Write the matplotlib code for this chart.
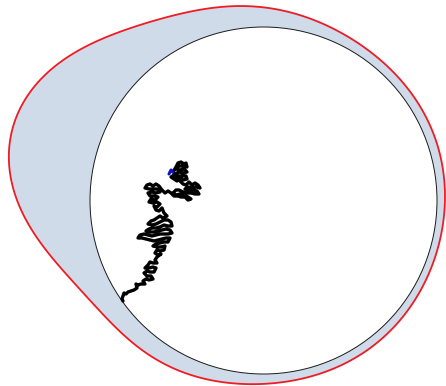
import numpy as np
import matplotlib
matplotlib.use("Agg")
import matplotlib.pyplot as plt
from matplotlib.patches import Polygon, Circle

# Outer boundary of the domain (screen-style coordinates, y grows downward)
outer_x = [8.3, 13.3, 26.7, 40, 66.7, 100, 140, 186.7, 233, 250, 300, 350, 383.3,
           410, 426.7, 440, 445, 441.7, 430, 413.3, 386.7, 360, 330, 286.7, 260,
           233, 200, 166.7, 133, 100, 66.7, 30, 18.3, 10]
outer_y = [150, 120, 100, 80, 60, 40, 23, 11.7, 7.3, 7, 15, 36.7, 63.3,
           90, 120, 160, 200, 240, 270, 303.3, 333.3, 353.3, 370, 383.3, 385,
           383, 376.7, 363, 343, 318, 267, 230, 203, 176.7]

# Inner disk
disk_center = (263.5, 200.5)
disk_radius = 173.5

# Brownian path: start segment (blue) and the rest up to the exit point
start_x = [169, 171, 173]
start_y = [174, 170, 172]

walk_x = [
    # top cluster
    173, 176, 178, 181, 184, 186, 187, 183, 179, 176, 180, 184, 187, 183, 179, 175,
    178, 182, 186, 187, 183, 180, 177, 174, 171, 174, 180, 183,
    # right cluster
    186, 189, 192, 195, 198, 200, 196, 192, 188, 185, 189, 193, 197, 199, 195, 191,
    187, 183, 179, 176, 173, 176, 180, 184, 188, 191, 188, 185, 181, 178, 174, 171,
    168, 165,
    # upper-left cluster
    162, 159, 156, 153, 150, 147, 145, 149, 153, 157, 160, 156, 152, 148, 150, 154,
    158, 155, 151, 149, 153, 157, 160, 157, 154, 156, 159, 162, 164,
    # middle cluster
    167, 163, 160, 157, 154, 151, 148, 152, 156, 160, 164, 168, 171, 172, 168, 164,
    160, 156, 152, 149, 146, 150, 154, 158, 162, 166, 170, 172, 168, 164, 160, 156,
    152, 148, 144, 140, 138, 142, 146, 150, 154, 158, 162, 166, 170, 168, 164, 160,
    156, 153, 157, 161, 165, 164, 160, 157, 155, 158, 161, 157,
    # lower cluster and tail
    155, 157, 153, 150, 148, 145, 149, 153, 156, 154, 150, 147, 144, 147, 151, 153,
    149, 146, 143, 145, 141, 138, 136, 137, 134, 131, 128, 126, 124, 123, 122, 123]
walk_y = [
    172, 167, 163, 162, 164, 163, 167, 166, 166, 169, 170, 169, 172, 173, 172, 174,
    176, 176, 176, 179, 180, 178, 181, 179, 177, 175, 181, 184,
    185, 182, 185, 183, 185, 188, 187, 188, 187, 189, 190, 190, 191, 194, 194, 193,
    193, 192, 190, 190, 193, 195, 194, 195, 197, 199, 200, 197, 197, 196, 196, 193,
    191, 193,
    190, 186, 184, 186, 184, 185, 188, 189, 189, 189, 192, 193, 192, 193, 196, 196,
    197, 200, 199, 202, 203, 202, 204, 207, 206, 210, 211, 208, 213,
    216, 218, 216, 218, 220, 221, 224, 225, 224, 222, 220, 220, 222, 226, 226, 225,
    227, 228, 228, 229, 231, 232, 232, 231, 230, 229, 230, 233, 234, 234, 234, 235,
    236, 235, 234, 235, 238, 238, 239, 240, 241, 240, 239, 238, 238, 242, 242, 243,
    244, 246, 247, 247, 246, 250, 251, 250, 253, 255, 254, 257,
    260, 263, 263, 262, 265, 268, 268, 267, 268, 272, 272, 271, 273, 276, 276, 279,
    280, 279, 281, 284, 284, 285, 284, 288, 290, 291, 292, 294, 293, 296, 299, 301]


def smooth_outline(xs, ys, center, harmonics=5, samples=720):
    """Least-squares Fourier fit of the radius as a function of angle."""
    cx, cy = center
    dx = np.asarray(xs, float) - cx
    dy = np.asarray(ys, float) - cy
    theta = np.arctan2(dy, dx)
    r = np.hypot(dx, dy)

    def design(t):
        cols = [np.ones_like(t)]
        for k in range(1, harmonics + 1):
            cols += [np.cos(k * t), np.sin(k * t)]
        return np.column_stack(cols)

    coef, *_ = np.linalg.lstsq(design(theta), r, rcond=None)
    t = np.linspace(-np.pi, np.pi, samples, endpoint=False)
    rr = design(t) @ coef
    return np.column_stack([cx + rr * np.cos(t), cy + rr * np.sin(t)])


fig = plt.figure(figsize=(4.46, 3.86), dpi=100)
ax = fig.add_axes([0, 0, 1, 1])
ax.set_xlim(0, 446)
ax.set_ylim(386, 0)
ax.axis("off")

outline = smooth_outline(outer_x, outer_y, center=(230, 196))
ax.add_patch(Polygon(outline, closed=True, facecolor="#d0dbe9",
                     edgecolor="#ee1c24", linewidth=1.3, zorder=1))

ax.add_patch(Circle(disk_center, disk_radius, facecolor="white",
                    edgecolor="#1a1a1a", linewidth=0.7, zorder=2))

ax.plot(walk_x, walk_y, color="black", linewidth=2.4, solid_joinstyle="round",
        solid_capstyle="round", zorder=3)
ax.plot(start_x, start_y, color="#1010c8", linewidth=2.2, solid_capstyle="round",
        zorder=4)

fig.savefig("out.png", dpi=100)
